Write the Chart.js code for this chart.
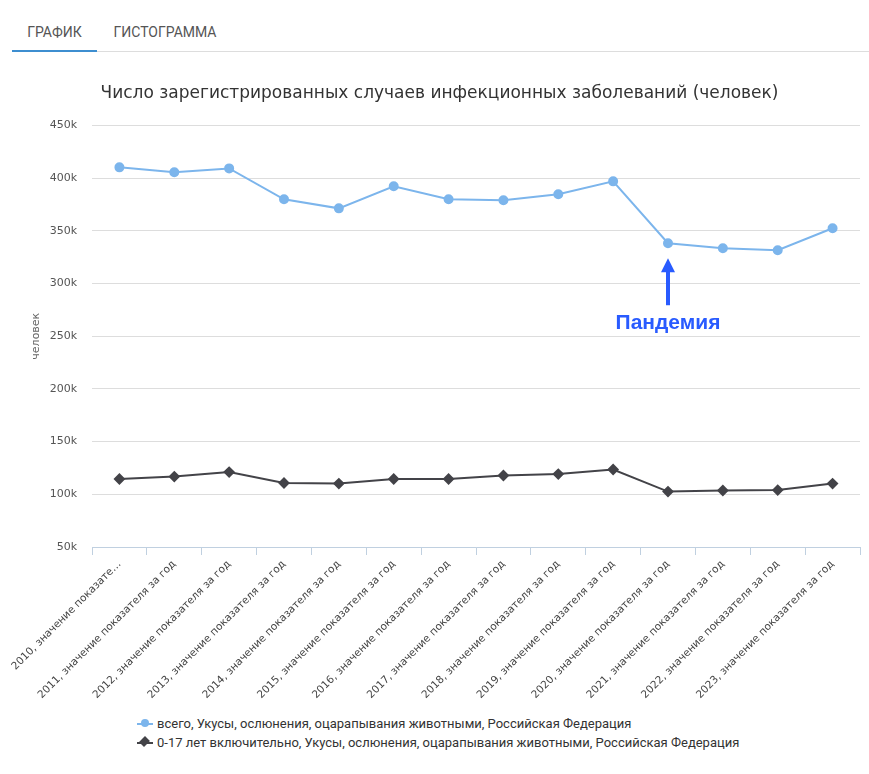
<!DOCTYPE html>
<html lang="ru">
<head>
<meta charset="utf-8">
<script src="https://cdn.jsdelivr.net/npm/chart.js@4.4.1/dist/chart.umd.min.js"></script>
<style>
    body { margin: 0; background: #fff; width: 869px; height: 774px; position: relative; overflow: hidden; font-family: Roboto, sans-serif; }
    .tabs { position: absolute; left: 12px; top: 18px; width: 857px; height: 33px; border-bottom: 1px solid #ddd; }
    .tab { position: absolute; top: 0; height: 32px; line-height: 28px; font-size: 14px; color: #555; text-align: center; }
    .tab.active { border-bottom: 2px solid #3d8ed0; }
    #wrap { position: absolute; left: 0; top: 60px; width: 869px; height: 640px; }
    .legend { position: absolute; left: 137px; top: 714px; font-size: 13px; color: #333; }
    .legend div { height: 19px; line-height: 19px; position: relative; padding-left: 20px; }
    .mk { position: absolute; left: 0; top: 9px; width: 16px; height: 2px; }
    .dot { position: absolute; left: 4px; top: 5px; width: 8px; height: 8px; border-radius: 50%; }
    .dia { position: absolute; left: 4px; top: 5px; width: 7px; height: 7px; transform: rotate(45deg) scaleY(1.2); }
</style>
</head>
<body>
<div class="tabs">
    <div class="tab active" style="left:0;width:85px;">ГРАФИК</div>
    <div class="tab" style="left:101px;width:104px;">ГИСТОГРАММА</div>
</div>
<div id="wrap"><canvas id="chart"></canvas></div>
<div class="legend">
    <div><span class="mk" style="background:#7cb5ec"></span><span class="dot" style="background:#7cb5ec"></span>всего, Укусы, ослюнения, оцарапывания животными, Российская Федерация</div>
    <div><span class="mk" style="background:#434348"></span><span class="dia" style="background:#434348"></span>0-17 лет включительно, Укусы, ослюнения, оцарапывания животными, Российская Федерация</div>
</div>
<script>
// Data
const years = ['2010', '2011', '2012', '2013', '2014', '2015', '2016', '2017', '2018', '2019', '2020', '2021', '2022', '2023'];
const categories = years.map(y => `${y}, значение показателя за год`);
const totalCases = [410200, 405500, 409200, 379900, 371300, 392200, 379900, 378900, 384600, 396900, 338200, 333400, 331500, 352400];
const childCases = [114500, 116800, 121100, 110700, 110200, 114500, 114500, 117800, 119200, 123500, 102600, 103600, 104000, 110200];
const seriesNames = [
    'всего, Укусы, ослюнения, оцарапывания животными, Российская Федерация',
    '0-17 лет включительно, Укусы, ослюнения, оцарапывания животными, Российская Федерация',
];
const yTicks = [50000, 100000, 150000, 200000, 250000, 300000, 350000, 400000, 450000];
const noteIndex = 10;
const noteText = 'Пандемия';

const FONT = "'DejaVu Sans', Verdana, sans-serif";

// first label doesn't fit on the left, cut it like the original does
const tickLabel = (label, i) => (i === 0 && label.length > 23) ? label.slice(0, 23) + '…' : label;

// Arrow + label under the 2020 point
const pandemicNote = {
    id: 'pandemicNote',
    afterDatasetsDraw(chart) {
        const { ctx, scales: { x, y } } = chart;
        const px = x.getPixelForValue(noteIndex);
        const py = y.getPixelForValue(totalCases[noteIndex]);
        const tip = py + 15, bottom = py + 62;
        ctx.save();
        ctx.fillStyle = '#295bff';
        ctx.strokeStyle = '#295bff';
        ctx.lineWidth = 4;
        ctx.beginPath();
        ctx.moveTo(px, tip + 10);
        ctx.lineTo(px, bottom);
        ctx.stroke();
        ctx.beginPath();
        ctx.moveTo(px, tip);
        ctx.lineTo(px - 7, tip + 14);
        ctx.lineTo(px + 7, tip + 14);
        ctx.closePath();
        ctx.fill();
        ctx.font = "bold 21px 'Liberation Sans', Arial, sans-serif";
        ctx.textAlign = 'center';
        ctx.textBaseline = 'middle';
        ctx.fillText(noteText, px, py + 80);
        ctx.restore();
    }
};

new Chart(document.getElementById('chart'), {
    type: 'line',
    data: {
        labels: categories,
        datasets: [
            { label: seriesNames[0], data: totalCases, borderColor: '#7cb5ec', backgroundColor: '#7cb5ec', borderWidth: 2, pointRadius: 4, pointStyle: 'circle', tension: 0 },
            { label: seriesNames[1], data: childCases, borderColor: '#434348', backgroundColor: '#434348', borderWidth: 2, pointRadius: 4.5, pointStyle: 'rectRot', tension: 0 },
        ]
    },
    options: {
        responsive: true,
        maintainAspectRatio: false,
        animation: false,
        layout: { padding: { left: 10, right: 0 } },
        plugins: {
            legend: { display: false },
            tooltip: { enabled: false },
            title: {
                display: true,
                text: 'Число зарегистрированных случаев инфекционных заболеваний (человек)',
                color: '#333',
                font: { family: FONT, size: 17, weight: 'normal' },
                padding: { top: 23, bottom: 22 }
            }
        },
        scales: {
            x: {
                offset: true,
                grid: { offset: true, drawOnChartArea: false, drawTicks: true, tickLength: 8, color: '#c0d0e0' },
                border: { color: '#c0d0e0' },
                ticks: {
                    color: '#444', font: { family: FONT, size: 10.5 }, minRotation: 45, maxRotation: 45, padding: 3, autoSkip: false,
                    callback: function (v, i) { return tickLabel(this.getLabelForValue(v), i); }
                },
                afterFit: (s) => { s.height = 153; s.paddingLeft = 0; s.paddingRight = 9; }
            },
            y: {
                min: 50000,
                max: 450000,
                afterBuildTicks: (s) => { s.ticks = yTicks.map(v => ({ value: v })); },
                grid: { color: '#dddddd', drawTicks: false },
                border: { display: false },
                ticks: { color: '#555', font: { family: FONT, size: 11 }, padding: 15, callback: (v) => (v / 1000) + 'k' },
                title: { display: true, text: 'человек', color: '#666', font: { family: FONT, size: 11 }, padding: { top: 20, bottom: 0 } },
                afterFit: (s) => { s.width = 82; s.paddingTop = 0; s.paddingBottom = 0; }
            }
        }
    },
    plugins: [pandemicNote]
});
</script>
</body>
</html>
